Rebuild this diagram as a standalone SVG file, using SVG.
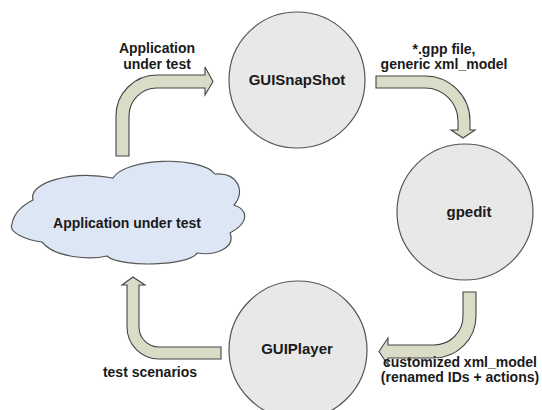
<svg xmlns="http://www.w3.org/2000/svg" width="542" height="410" viewBox="0 0 542 410">
<style>
.node{fill:#e8e8e8;stroke:#555;stroke-width:1.2}
.cloud{fill:#dde6f4;stroke:#555;stroke-width:1.2}
.arr{fill:#dadcc8;stroke:#444;stroke-width:1.1;stroke-linejoin:miter}
text{font-family:"Liberation Sans",Arial,sans-serif;font-weight:bold;fill:#1a1a1a;text-anchor:middle}
.nl{font-size:15px}
.el{font-size:14px}
</style>
<rect width="542" height="410" fill="#fff"/>
<g id="connectors">
  <g id="c1">
    <path class="arr" d="M116,156 L116,116 A41,41 0 0 1 157,75 L205,75 L205,67 L213,81.5 L205,95 L205,88 L157,88 A28,28 0 0 0 129,116 L129,156 Z"/>
    <text class="el" x="157" y="53">Application</text>
    <text class="el" x="157" y="69">under test</text>
  </g>
  <g id="c2">
    <path class="arr" d="M376,76 L425,76 A45,45 0 0 1 470,121 L470,130 L475,130 L463,138 L451,130 L458,130 L458,121 A33,33 0 0 0 425,88 L376,88 Z"/>
    <text class="el" x="444" y="54">*.gpp file,</text>
    <text class="el" x="444" y="69">generic xml_model</text>
  </g>
  <g id="c3">
    <path class="arr" d="M476,292 L476,316 A42,42 0 0 1 434,358 L388,358 L388,365 L379,351.5 L388,338 L388,345 L434,345 A29,29 0 0 0 463,316 L463,292 Z"/>
    <text class="el" x="460" y="367">customized xml_model</text>
    <text class="el" x="460" y="382">(renamed IDs + actions)</text>
  </g>
  <g id="c4">
    <path class="arr" d="M221,359 L159,359 A32,32 0 0 1 127,327 L127,285 L122,285 L133,277 L145,285 L139,285 L139,327 A20,20 0 0 0 159,347 L221,347 Z"/>
    <text class="el" x="150" y="377">test scenarios</text>
  </g>
</g>
<g id="guisnapshot">
  <circle class="node" cx="297" cy="80" r="68"/>
  <text class="nl" x="297" y="85">GUISnapShot</text>
</g>
<g id="gpedit">
  <circle class="node" cx="465" cy="212" r="68"/>
  <text class="nl" x="469" y="217">gpedit</text>
</g>
<g id="guiplayer">
  <circle class="node" cx="298" cy="350" r="69"/>
  <text class="nl" x="297" y="354">GUIPlayer</text>
</g>
<g id="aut">
  <path class="cloud" d="M33,200 C28,183 70,170 113,178 C125,158 200,155 215,174 C238,172 246,192 234,205 C248,210 250,222 230,233 C236,248 215,256 197,253 C190,266 120,268 107,256 C90,260 55,258 42,242 C25,240 8,232 12,224 C14,212 25,204 33,200 Z"/>
  <text class="el" x="127" y="228">Application under test</text>
</g>
</svg>
